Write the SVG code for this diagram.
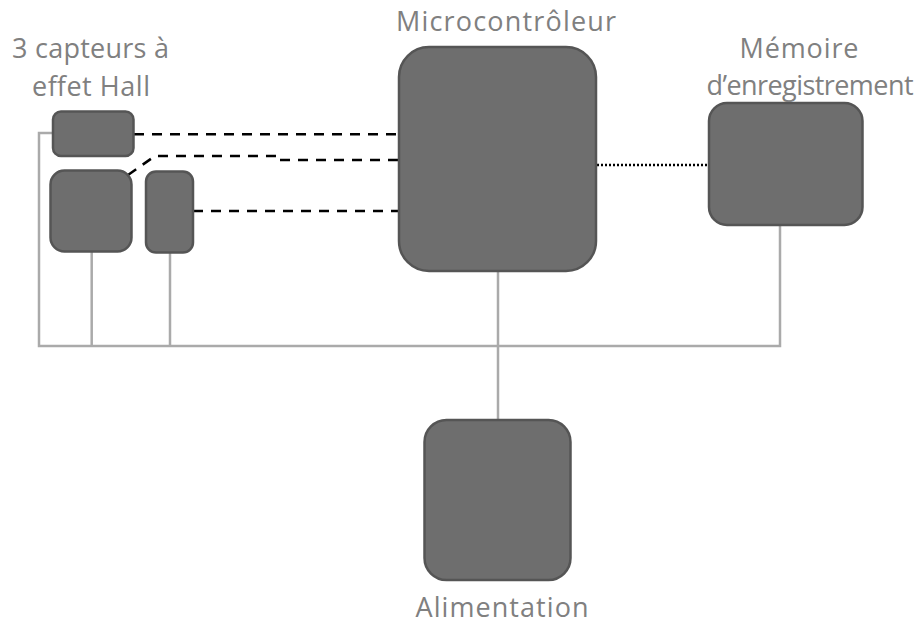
<svg xmlns="http://www.w3.org/2000/svg" width="920" height="626" viewBox="0 0 920 626">
<style>
.box{fill:#6e6e6e;stroke:#555555;stroke-width:2.5}
.lbl{font-family:"Open Sans","Liberation Sans",sans-serif;font-size:27px;fill:#808080;text-anchor:middle}
.bus{fill:none;stroke:#aaaaaa;stroke-width:2.5}
.dash{fill:none;stroke:#000000;stroke-width:2.5;stroke-dasharray:10 8}
.dot{fill:none;stroke:#000000;stroke-width:2.5;stroke-dasharray:2 2}
</style>
<rect width="920" height="626" fill="#ffffff"/>
<g id="connectors">
<path class="bus" d="M53,133 H39 V346 H780 V225"/>
<path class="bus" d="M91.7,252 V346"/>
<path class="bus" d="M170,253 V346"/>
<path class="bus" d="M498,271 V420"/>
<path class="dash" d="M134,134.3 H400"/>
<path class="dash" d="M128,175 L155,156 H277"/>
<path class="dash" d="M280,160 H400"/>
<path class="dash" d="M193,211 H400"/>
<path class="dot" d="M597,165 H709"/>
</g>
<g id="sensors">
<rect class="box" x="53" y="111.5" width="80.5" height="44.5" rx="8"/>
<rect class="box" x="50.5" y="170.5" width="81" height="81" rx="14"/>
<rect class="box" x="146" y="171.5" width="47" height="81" rx="10"/>
<text class="lbl" x="90.5" y="58" textLength="157">3 capteurs à</text>
<text class="lbl" x="91" y="96" textLength="118">effet Hall</text>
</g>
<g id="microcontroleur">
<rect class="box" x="399" y="47" width="197" height="224" rx="30"/>
<text class="lbl" x="506" y="31" textLength="220">Microcontrôleur</text>
</g>
<g id="memoire">
<rect class="box" x="709" y="103" width="153.5" height="122" rx="18"/>
<text class="lbl" x="799" y="58" textLength="119">Mémoire</text>
<text class="lbl" x="810" y="95" textLength="207">d’enregistrement</text>
</g>
<g id="alimentation">
<rect class="box" x="424.5" y="420" width="146" height="160" rx="22"/>
<text class="lbl" x="502" y="617" textLength="173">Alimentation</text>
</g>
</svg>
